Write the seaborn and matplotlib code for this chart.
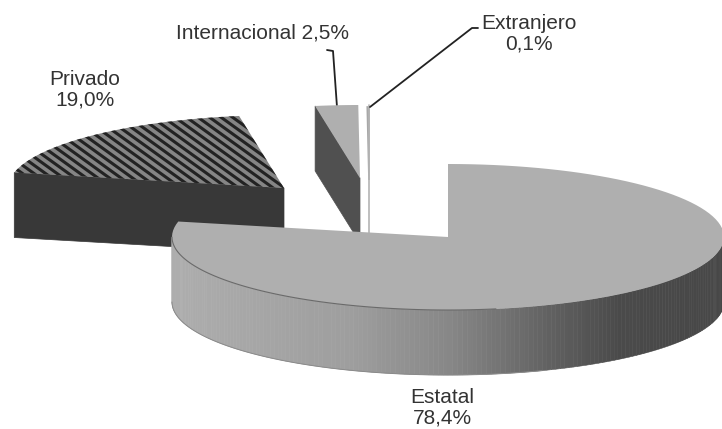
import numpy as np
import seaborn as sns
import matplotlib.pyplot as plt

# Sector values (%), clockwise from 12 o'clock
names = ['Estatal', 'Privado', 'Internacional', 'Extranjero']
values = [78.4, 19.0, 2.5, 0.1]

# Apex of each sector on the image (exploded pie)
centers_x = [448, 284, 360, 369]
centers_y = [237, 188, 178, 178]

top_grey = '#afafaf'
dark_side = '#383838'
inter_side = '#505050'
shade_x = [172, 350, 450, 550, 620, 722]
shade_v = [0.68, 0.62, 0.53, 0.38, 0.29, 0.28]

RX, RY, DEPTH = 276, 73, 65

sns.set_style('white')
plt.rcParams['font.family'] = ['Liberation Sans', 'DejaVu Sans']

# sector limits in degrees
ends = 90 - 3.6 * np.cumsum(values)
starts = np.r_[90, ends[:-1]]


def arc(i, a0, a1, n=120, drop=0):
    t = np.radians(np.linspace(a0, a1, n))
    return centers_x[i] + RX * np.cos(t), centers_y[i] - RY * np.sin(t) + drop


def top_shape(i):
    xs, ys = arc(i, starts[i], ends[i])
    return np.r_[centers_x[i], xs], np.r_[centers_y[i], ys]


fig = plt.figure(figsize=(7.22, 4.29), dpi=100)
ax = fig.add_axes([0, 0, 1, 1])
ax.set_xlim(0, 722)
ax.set_ylim(429, 0)
ax.axis('off')

# Privado: front cut face and striped top
xe, ye = arc(1, starts[1], starts[1], n=1)
ax.fill([xe[0], centers_x[1], centers_x[1], xe[0]],
        [ye[0], centers_y[1], centers_y[1] + DEPTH, ye[0] + DEPTH],
        color=dark_side, lw=0.5, zorder=1)
xs, ys = top_shape(1)
patch = ax.fill(xs, ys, color='#858585', lw=0, zorder=1)[0]
for c in np.arange(-100, 360, 8.3):
    line = ax.plot([0, 300], [c, c + 300 * 0.72], color='#222222', lw=2.2,
                   solid_capstyle='butt', zorder=1)[0]
    line.set_clip_path(patch)

# Internacional: cut face and top
xl, yl = arc(2, starts[2], starts[2], n=1)
ax.fill([xl[0], centers_x[2], centers_x[2], xl[0]],
        [yl[0], centers_y[2], centers_y[2] + DEPTH, yl[0] + DEPTH],
        color=inter_side, lw=0.5, zorder=1)
xs, ys = top_shape(2)
ax.fill(xs, ys, color=top_grey, lw=0, zorder=1.5)

# Extranjero: almost a sliver
xs, ys = top_shape(3)
ax.fill(xs, ys + 2, facecolor='white', edgecolor='#a8a8a8', lw=1.2, zorder=1)
ax.plot([centers_x[3]] * 2, [ys.min(), centers_y[3] + DEPTH], color='#b4b4b4',
        lw=1.2, zorder=1)

# Estatal: shaded wall, then top
angles = np.linspace(180, 360, 181)
for a0, a1 in zip(angles[:-1], angles[1:]):
    x0, y0 = arc(0, a0, a1, n=4)
    x1, y1 = arc(0, a1, a0, n=4, drop=DEPTH)
    level = np.interp(x0.mean(), shade_x, shade_v)
    ax.fill(np.r_[x0, x1], np.r_[y0, y1], color=str(level), lw=0.4, zorder=2)
xs, ys = top_shape(0)
ax.fill(xs, ys, color=top_grey, lw=0, zorder=3)
xr, yr = arc(0, 180, 280)
ax.plot(xr, yr, color='#6a6a6a', lw=0.8, zorder=4)
xr, yr = arc(0, 180, 290, drop=DEPTH)
ax.plot(xr, yr, color='#8a8a8a', lw=0.7, zorder=4)

# Leader lines
ax.plot([337, 333, 327], [107, 51, 50], color='#222222', lw=1.3, zorder=1)
ax.plot([370, 472, 478], [107, 28, 28], color='#222222', lw=1.3, zorder=1)

# Labels
labels = [f'{v:.1f}%'.replace('.', ',') for v in values]
txt = dict(color='#333333', fontsize=15, ha='center', va='center',
           linespacing=1.1)
ax.text(442, 408, f'{names[0]}\n{labels[0]}', **txt)
ax.text(85, 90, f'{names[1]}\n{labels[1]}', **txt)
ax.text(262, 33, f'{names[2]} {labels[2]}', **txt)
ax.text(529, 34, f'{names[3]}\n{labels[3]}', **txt)

fig.savefig('out.png', dpi=100)
